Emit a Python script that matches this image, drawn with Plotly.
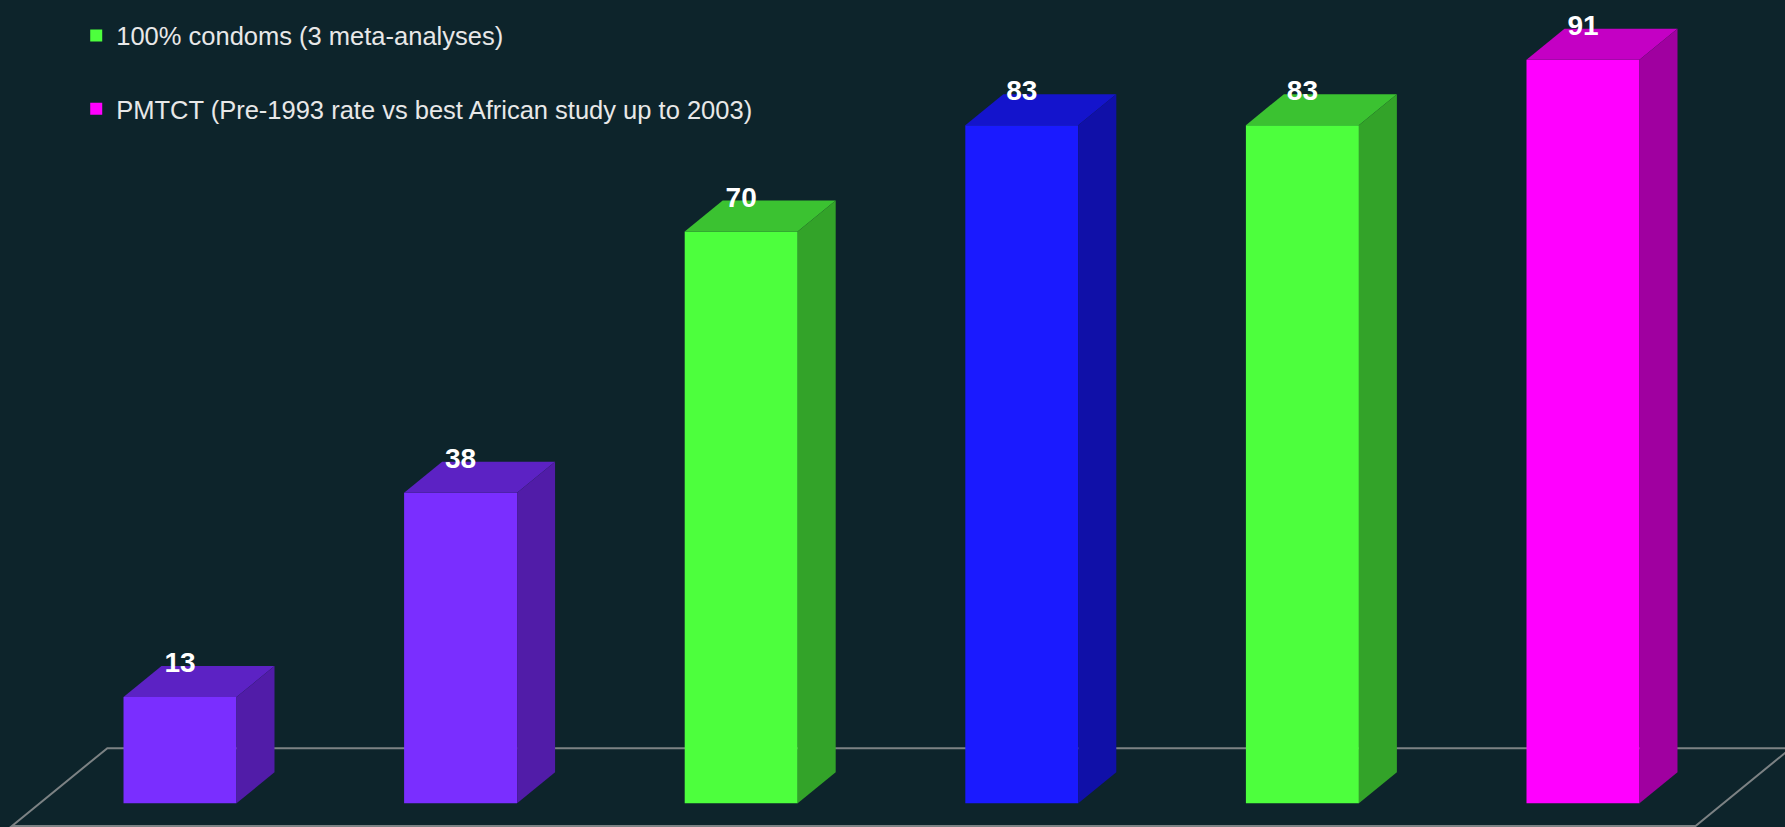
import plotly.graph_objects as go

# Bar values and colours (front face, top face, side face)
values = [13, 38, 70, 83, 83, 91]
front_colors = ["#7a2eff", "#7a2eff", "#4dff3d", "#1a1aff", "#4dff3d", "#ff00ff"]
top_colors = ["#5c22c4", "#5c22c4", "#3bc231", "#1414cc", "#3bc231", "#c400c4"]
side_colors = ["#511ca8", "#511ca8", "#33a329", "#1010a8", "#33a329", "#a000a0"]
legend_names = [
    None,
    None,
    None,
    None,
    "100% condoms (3 meta-analyses)",
    "PMTCT (Pre-1993 rate vs best African study up to 2003)",
]

BG = "#0d242b"
BAR_W = 0.4027          # width of the front face, in category units
DEPTH_X = 0.1354        # horizontal shift of the 3D depth, in category units
DEPTH_Y = 3.794         # vertical shift of the 3D depth, in value units
LABEL_OFFSET = 3.9      # value label centre above the front-face top

positions = list(range(len(values)))
fig = go.Figure()

# Front faces
for i, v in enumerate(values):
    fig.add_trace(go.Bar(
        x=[positions[i]], y=[v], width=BAR_W,
        marker=dict(color=front_colors[i], line=dict(width=0)),
        name=legend_names[i] or "",
        showlegend=legend_names[i] is not None,
        legendgroup=f"g{i}",
        hoverinfo="skip",
    ))

# Top and side faces of each box
for i, v in enumerate(values):
    left = positions[i] - BAR_W / 2
    right = positions[i] + BAR_W / 2
    fig.add_trace(go.Scatter(
        x=[left, right, right + DEPTH_X, left + DEPTH_X, left],
        y=[v, v, v + DEPTH_Y, v + DEPTH_Y, v],
        mode="lines", fill="toself", fillcolor=top_colors[i],
        line=dict(width=0, color=top_colors[i]),
        showlegend=False, hoverinfo="skip",
    ))
    fig.add_trace(go.Scatter(
        x=[right, right + DEPTH_X, right + DEPTH_X, right, right],
        y=[0, DEPTH_Y, v + DEPTH_Y, v, 0],
        mode="lines", fill="toself", fillcolor=side_colors[i],
        line=dict(width=0, color=side_colors[i]),
        showlegend=False, hoverinfo="skip",
    ))

# Value labels
fig.add_trace(go.Scatter(
    x=positions, y=[v + LABEL_OFFSET for v in values],
    mode="text", text=[str(v) for v in values],
    textposition="middle center",
    textfont=dict(family="Liberation Sans", size=28, color="#ffffff", weight="bold"),
    showlegend=False, hoverinfo="skip",
))

# Floor outline drawn beneath the boxes
n = len(values)
front_k, back_k = -0.73, 1.78
corners = [
    (-0.5 + front_k * DEPTH_X, front_k * DEPTH_Y),
    (n - 0.5 + front_k * DEPTH_X, front_k * DEPTH_Y),
    (n - 0.5 + back_k * DEPTH_X, back_k * DEPTH_Y),
    (-0.5 + back_k * DEPTH_X, back_k * DEPTH_Y),
]
floor_path = "M " + " L ".join(f"{x},{y}" for x, y in corners) + " Z"
fig.add_shape(type="path", path=floor_path, xref="x", yref="y",
              line=dict(color="#7c8284", width=2), fillcolor="rgba(0,0,0,0)",
              layer="below")

fig.update_layout(
    width=1785, height=827,
    margin=dict(l=0, r=0, t=0, b=0),
    paper_bgcolor=BG, plot_bgcolor=BG,
    barmode="overlay",
    xaxis=dict(visible=False, range=[-0.6415, 5.7199], fixedrange=True),
    yaxis=dict(visible=False, range=[-2.90, 98.32], fixedrange=True),
    legend=dict(
        x=0.0427, y=0.985, xanchor="left", yanchor="top",
        bgcolor="rgba(0,0,0,0)",
        font=dict(family="Liberation Sans", size=25.5, color="#e8e8e8"),
        traceorder="grouped", tracegroupgap=37,
    ),
    showlegend=True,
)

fig.write_html("out.html")
